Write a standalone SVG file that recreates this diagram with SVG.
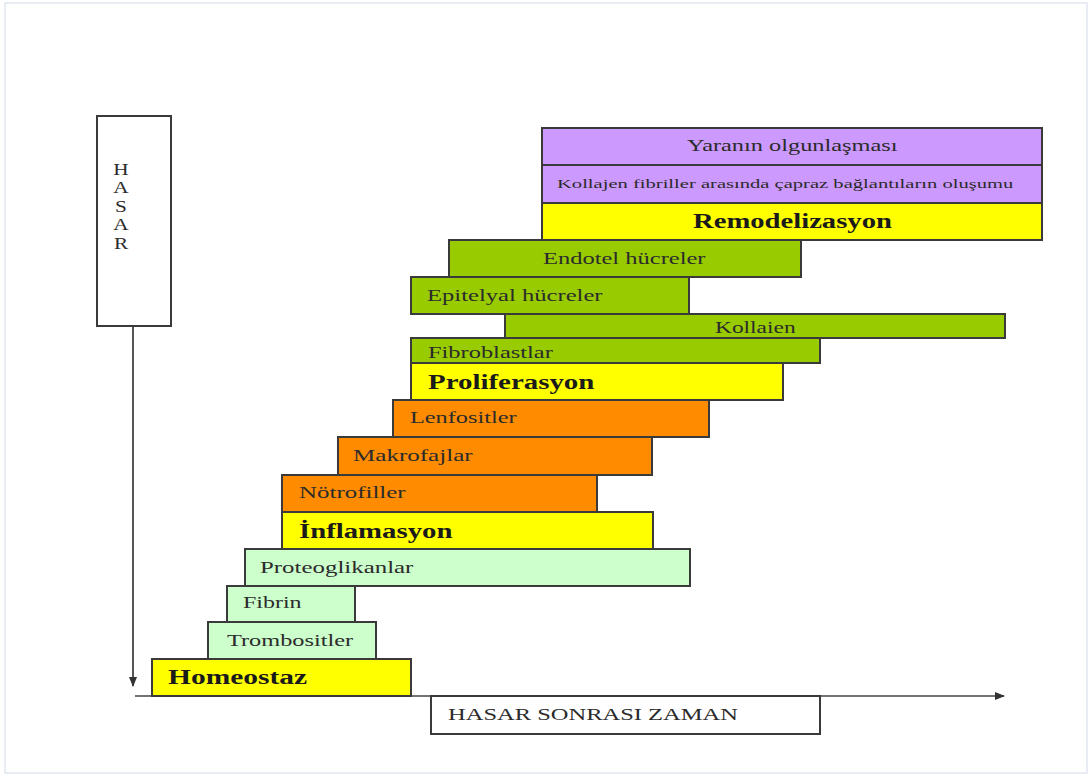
<svg xmlns="http://www.w3.org/2000/svg" width="1092" height="776" viewBox="0 0 1092 776">
<style>
.b{stroke:#3a3a3a;stroke-width:2}
.y{fill:#ffff00}.g{fill:#ccffcc}.o{fill:#ff8c00}.l{fill:#99cc00}.p{fill:#cc99ff}
text{font-family:"Liberation Serif","Times New Roman",serif;fill:#2b2b2b;font-size:17px}
.h{font-weight:bold;font-size:20px;fill:#1a1a1a}
.c{text-anchor:middle}
</style>
<defs>
<marker id="ah" markerWidth="10" markerHeight="8" refX="9" refY="4" orient="auto" markerUnits="userSpaceOnUse">
<path d="M0,0 L10,4 L0,8 Z" fill="#333"/>
</marker>
</defs>
<rect x="5" y="3" width="1082" height="770" fill="#fff" stroke="#dfe6f2" stroke-width="1.5"/>
<g id="connectors">
<line x1="133" y1="326" x2="133" y2="686" stroke="#555" stroke-width="2" marker-end="url(#ah)"/>
<line x1="135" y1="696" x2="1004" y2="696" stroke="#444" stroke-width="1.5" marker-end="url(#ah)"/>
</g>
<g id="hasar"><rect class="b" x="97" y="116" width="74" height="210" fill="#fff"/>
<text transform="translate(121 175) scale(1.25 1)" class="c">H</text><text transform="translate(121 193) scale(1.25 1)" class="c">A</text><text transform="translate(121 212) scale(1.25 1)" class="c">S</text><text transform="translate(121 230) scale(1.25 1)" class="c">A</text><text transform="translate(121 249) scale(1.25 1)" class="c">R</text></g>
<g id="zaman"><rect class="b" x="431" y="696" width="389" height="38" fill="#fff"/><text transform="translate(448 720) scale(1.3 1)" textLength="223" lengthAdjust="spacingAndGlyphs">HASAR SONRASI ZAMAN</text></g>
<g id="homeostaz"><rect class="b y" x="152" y="659" width="259" height="37"/><text class="h" transform="translate(168 684) scale(1.3 1)" textLength="107" lengthAdjust="spacingAndGlyphs">Homeostaz</text></g>
<g id="trombositler"><rect class="b g" x="208" y="622" width="168" height="37"/><text transform="translate(227 646) scale(1.3 1)" textLength="97" lengthAdjust="spacingAndGlyphs">Trombositler</text></g>
<g id="fibrin"><rect class="b g" x="227" y="586" width="128" height="36"/><text transform="translate(243 608) scale(1.3 1)" textLength="45" lengthAdjust="spacingAndGlyphs">Fibrin</text></g>
<g id="proteoglikanlar"><rect class="b g" x="245" y="549" width="445" height="37"/><text transform="translate(260 573) scale(1.3 1)" textLength="118" lengthAdjust="spacingAndGlyphs">Proteoglikanlar</text></g>
<g id="inflamasyon"><rect class="b y" x="282" y="512" width="371" height="37"/><text class="h" transform="translate(299 538) scale(1.3 1)" textLength="118" lengthAdjust="spacingAndGlyphs">İnflamasyon</text></g>
<g id="notrofiller"><rect class="b o" x="282" y="475" width="315" height="37"/><text transform="translate(299 498) scale(1.3 1)" textLength="82" lengthAdjust="spacingAndGlyphs">Nötrofiller</text></g>
<g id="makrofajlar"><rect class="b o" x="338" y="437" width="314" height="38"/><text transform="translate(353 461) scale(1.3 1)" textLength="92" lengthAdjust="spacingAndGlyphs">Makrofajlar</text></g>
<g id="lenfositler"><rect class="b o" x="393" y="400" width="316" height="37"/><text transform="translate(410 423) scale(1.3 1)" textLength="82" lengthAdjust="spacingAndGlyphs">Lenfositler</text></g>
<g id="proliferasyon"><rect class="b y" x="411" y="363" width="372" height="37"/><text class="h" transform="translate(428 389) scale(1.3 1)" textLength="128" lengthAdjust="spacingAndGlyphs">Proliferasyon</text></g>
<g id="fibroblastlar"><rect class="b l" x="411" y="338" width="409" height="25"/><text transform="translate(428 358) scale(1.3 1)" textLength="96" lengthAdjust="spacingAndGlyphs">Fibroblastlar</text></g>
<g id="kollajen"><rect class="b l" x="505" y="314" width="500" height="24"/><text transform="translate(715 333) scale(1.3 1)" textLength="62" lengthAdjust="spacingAndGlyphs">Kollaien</text></g>
<g id="epitelyal"><rect class="b l" x="411" y="277" width="278" height="37"/><text transform="translate(427 301) scale(1.3 1)" textLength="135" lengthAdjust="spacingAndGlyphs">Epitelyal hücreler</text></g>
<g id="endotel"><rect class="b l" x="449" y="240" width="352" height="37"/><text transform="translate(543 264) scale(1.3 1)" textLength="125" lengthAdjust="spacingAndGlyphs">Endotel hücreler</text></g>
<g id="remodelizasyon"><rect class="b y" x="542" y="203" width="500" height="37"/><text class="h" transform="translate(693 228) scale(1.3 1)" textLength="153" lengthAdjust="spacingAndGlyphs">Remodelizasyon</text></g>
<g id="kollajen-fibriller"><rect class="b p" x="542" y="165" width="500" height="38"/><text transform="translate(557 188) scale(1.3 1)" style="font-size:13px" textLength="351" lengthAdjust="spacingAndGlyphs">Kollajen fibriller arasında çapraz bağlantıların oluşumu</text></g>
<g id="olgunlasma"><rect class="b p" x="542" y="128" width="500" height="37"/><text transform="translate(687 151) scale(1.3 1)" textLength="162" lengthAdjust="spacingAndGlyphs">Yaranın olgunlaşması</text></g>
</svg>
